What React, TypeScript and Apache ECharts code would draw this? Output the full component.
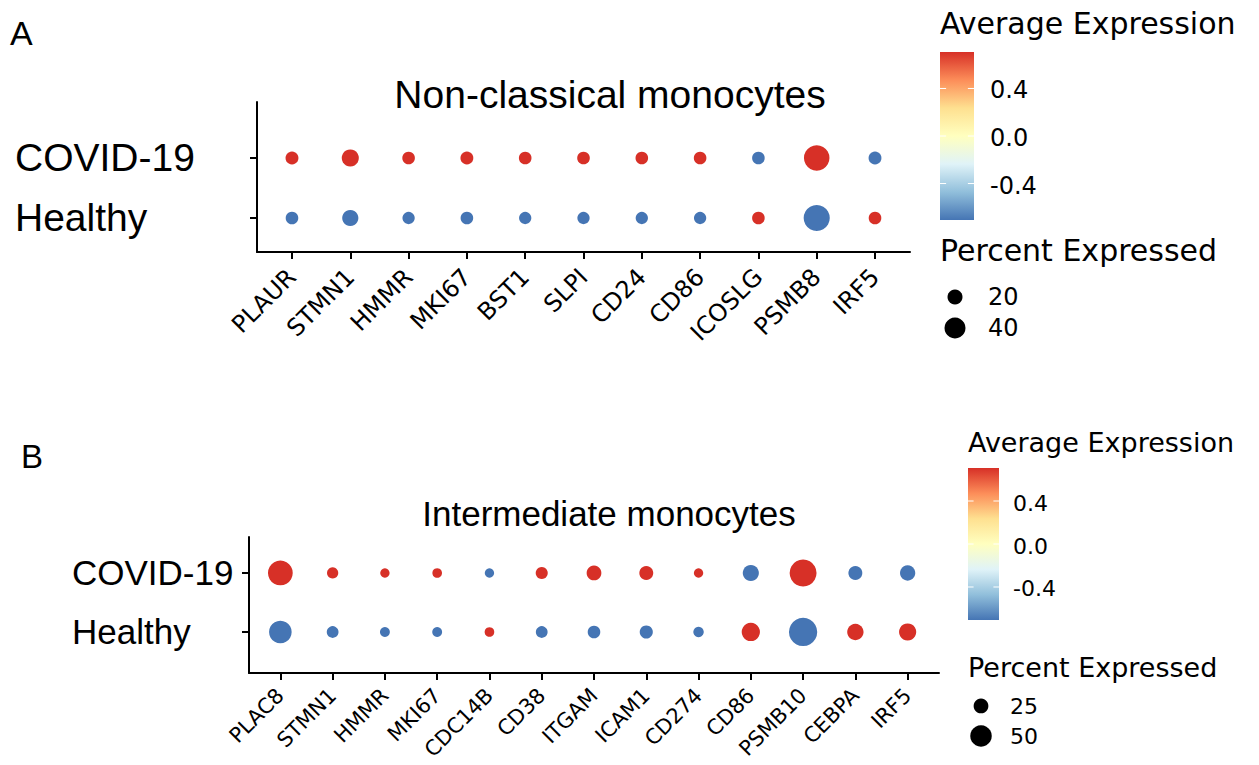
import React, { useEffect, useRef } from "react";
import * as echarts from "echarts";

// ---------- data ----------
const groups = ["Healthy", "COVID-19"];

const genesA = ["PLAUR", "STMN1", "HMMR", "MKI67", "BST1", "SLPI", "CD24", "CD86", "ICOSLG", "PSMB8", "IRF5"];
const covidPctA = [13, 27, 12, 13, 12, 12, 12, 12, 12, 55, 13];
const healthyPctA = [12, 24, 11, 12, 11, 11, 11, 11, 12, 57, 12];
const covidExpA = [0.707, 0.707, 0.707, 0.707, 0.707, 0.707, 0.707, 0.707, -0.707, 0.707, -0.707];
const healthyExpA = [-0.707, -0.707, -0.707, -0.707, -0.707, -0.707, -0.707, -0.707, 0.707, -0.707, 0.707];

const genesB = ["PLAC8", "STMN1", "HMMR", "MKI67", "CDC14B", "CD38", "ITGAM", "ICAM1", "CD274", "CD86", "PSMB10", "CEBPA", "IRF5"];
const covidPctB = [62, 12, 5, 6, 5, 15, 25, 22, 5, 30, 70, 22, 27];
const healthyPctB = [54, 14, 7, 7, 6, 14, 17, 19, 9, 38, 75, 31, 34];
const covidExpB = [0.707, 0.707, 0.707, 0.707, -0.707, 0.707, 0.707, 0.707, 0.707, -0.707, 0.707, -0.707, -0.707];
const healthyExpB = [-0.707, -0.707, -0.707, -0.707, 0.707, -0.707, -0.707, -0.707, -0.707, 0.707, -0.707, 0.707, 0.707];

const colorTicks = [0.4, 0.0, -0.4];
const sizeBreaksA = [20, 40];
const sizeBreaksB = [25, 50];
const expMin = -0.707;
const expMax = 0.707;

const palette = ["#4575B4", "#91BFDB", "#E0F3F8", "#FFFFBF", "#FEE090", "#FC8D59", "#D73027"];

// ---------- helpers ----------
const sizeA = (p: number) => 9 + 0.3 * p;
const sizeB = (p: number) => 8 + 0.27 * p;

function buildData(genes: string[], hPct: number[], hExp: number[], cPct: number[], cExp: number[]) {
  const out: number[][] = [];
  genes.forEach((_, i) => {
    out.push([i, 0, hPct[i], hExp[i]]);
    out.push([i, 1, cPct[i], cExp[i]]);
  });
  return out;
}

const SERIF = "'Liberation Sans', Arial, sans-serif";
const DEJAVU = "'DejaVu Sans', sans-serif";

function legendGraphics(opts: {
  x: number; titleY: number; titleSize: number;
  barTop: number; barW: number; barH: number; labelX: number; labelSize: number;
  pctTitleY: number; dotX: number; dotYs: number[]; breaks: number[]; sizeFn: (p: number) => number; dotLabelX: number;
}) {
  const els: any[] = [];
  els.push({
    type: "text", x: opts.x, y: opts.titleY,
    style: { text: "Average Expression", font: `${opts.titleSize}px ${DEJAVU}`, fill: "#000", textVerticalAlign: "middle" },
  });
  els.push({
    type: "rect", shape: { x: opts.x, y: opts.barTop, width: opts.barW, height: opts.barH },
    style: {
      fill: new echarts.graphic.LinearGradient(0, 0, 0, 1,
        palette.slice().reverse().map((c, i) => ({ offset: i / (palette.length - 1), color: c }))),
    },
  });
  const mid = opts.barTop + opts.barH / 2;
  const scale = opts.barH / (expMax - expMin);
  colorTicks.forEach((v) => {
    const y = mid - v * scale;
    els.push({ type: "line", shape: { x1: opts.x, y1: y, x2: opts.x + opts.barW * 0.18, y2: y }, style: { stroke: "#fff", lineWidth: 1 } });
    els.push({ type: "line", shape: { x1: opts.x + opts.barW * 0.82, y1: y, x2: opts.x + opts.barW, y2: y }, style: { stroke: "#fff", lineWidth: 1 } });
    els.push({
      type: "text", x: opts.labelX, y: y + 2,
      style: { text: v.toFixed(1), font: `${opts.labelSize}px ${DEJAVU}`, fill: "#000", textVerticalAlign: "middle" },
    });
  });
  els.push({
    type: "text", x: opts.x, y: opts.pctTitleY,
    style: { text: "Percent Expressed", font: `${opts.titleSize}px ${DEJAVU}`, fill: "#000", textVerticalAlign: "middle" },
  });
  opts.breaks.forEach((b, i) => {
    els.push({ type: "circle", shape: { cx: opts.dotX, cy: opts.dotYs[i], r: opts.sizeFn(b) / 2 }, style: { fill: "#000" } });
    els.push({
      type: "text", x: opts.dotLabelX, y: opts.dotYs[i],
      style: { text: String(b), font: `${opts.labelSize}px ${DEJAVU}`, fill: "#000", textVerticalAlign: "middle" },
    });
  });
  return els;
}

function xAxisDef(grid: number, genes: string[], fontSize: number, margin: number) {
  const vals = genes.map((_, i) => i);
  return {
    gridIndex: grid, type: "value", min: -0.6, max: genes.length - 1 + 0.6,
    splitLine: { show: false },
    axisLine: { show: true, onZero: false, lineStyle: { color: "#000", width: 2 } },
    axisTick: { show: true, customValues: vals, length: 7, lineStyle: { color: "#000", width: 2 } },
    axisLabel: {
      customValues: vals, rotate: 45, margin, color: "#000", fontFamily: DEJAVU, fontSize,
      formatter: (v: number) => genes[Math.round(v)] ?? "",
    },
  };
}

function yAxisDef(grid: number, min: number, max: number, fontSize: number, margin: number) {
  return {
    gridIndex: grid, type: "value", min, max,
    splitLine: { show: false },
    axisLine: { show: true, onZero: false, lineStyle: { color: "#000", width: 2 } },
    axisTick: { show: true, customValues: [0, 1], length: 7, lineStyle: { color: "#000", width: 2 } },
    axisLabel: {
      customValues: [0, 1], align: "left", margin, color: "#000", fontFamily: SERIF, fontSize,
      formatter: (v: number) => groups[Math.round(v)] ?? "",
    },
  };
}

export default function App() {
  const ref = useRef<HTMLDivElement>(null);
  useEffect(() => {
    if (!ref.current) return;
    const chart = echarts.init(ref.current, undefined, { renderer: "svg" });
    const dataA = buildData(genesA, healthyPctA, healthyExpA, covidPctA, covidExpA);
    const dataB = buildData(genesB, healthyPctB, healthyExpB, covidPctB, covidExpB);

    const graphic: any[] = [
      { type: "text", x: 10, y: 33, style: { text: "A", font: `34px ${SERIF}`, fill: "#000", textVerticalAlign: "middle" } },
      { type: "text", x: 21, y: 456, style: { text: "B", font: `33px ${SERIF}`, fill: "#000", textVerticalAlign: "middle" } },
      { type: "text", x: 610, y: 94, style: { text: "Non-classical monocytes", font: `39px ${SERIF}`, fill: "#000", textAlign: "center", textVerticalAlign: "middle" } },
      { type: "text", x: 609, y: 513, style: { text: "Intermediate monocytes", font: `35px ${SERIF}`, fill: "#000", textAlign: "center", textVerticalAlign: "middle" } },
      ...legendGraphics({
        x: 940, titleY: 23, titleSize: 30, barTop: 52, barW: 34, barH: 168, labelX: 990, labelSize: 24,
        pctTitleY: 250, dotX: 955, dotYs: [297, 328], breaks: sizeBreaksA, sizeFn: sizeA, dotLabelX: 988,
      }),
      ...legendGraphics({
        x: 968, titleY: 442, titleSize: 27, barTop: 468, barW: 31, barH: 152, labelX: 1013, labelSize: 22,
        pctTitleY: 667, dotX: 981, dotYs: [706, 736], breaks: sizeBreaksB, sizeFn: sizeB, dotLabelX: 1010,
      }),
    ];

    chart.setOption({
      animation: false,
      grid: [
        { left: 257, top: 102, width: 653, height: 150 },
        { left: 249, top: 537, width: 690, height: 136 },
      ],
      xAxis: [xAxisDef(0, genesA, 24, 21), xAxisDef(1, genesB, 21, 19)],
      yAxis: [yAxisDef(0, -0.567, 1.933, 39, 242), yAxisDef(1, -0.695, 1.61, 35, 177)],
      visualMap: [{
        show: false, type: "continuous", min: expMin, max: expMax, dimension: 3, seriesIndex: [0, 1],
        inRange: { color: palette },
      }],
      series: [
        { type: "scatter", xAxisIndex: 0, yAxisIndex: 0, data: dataA, itemStyle: { opacity: 1 }, symbolSize: (v: number[]) => sizeA(v[2]) },
        { type: "scatter", xAxisIndex: 1, yAxisIndex: 1, data: dataB, itemStyle: { opacity: 1 }, symbolSize: (v: number[]) => sizeB(v[2]) },
      ],
      graphic,
    });
    return () => chart.dispose();
  }, []);
  return <div ref={ref} style={{ position: "absolute", left: 0, top: 0, width: 1259, height: 765, background: "#fff" }} />;
}
